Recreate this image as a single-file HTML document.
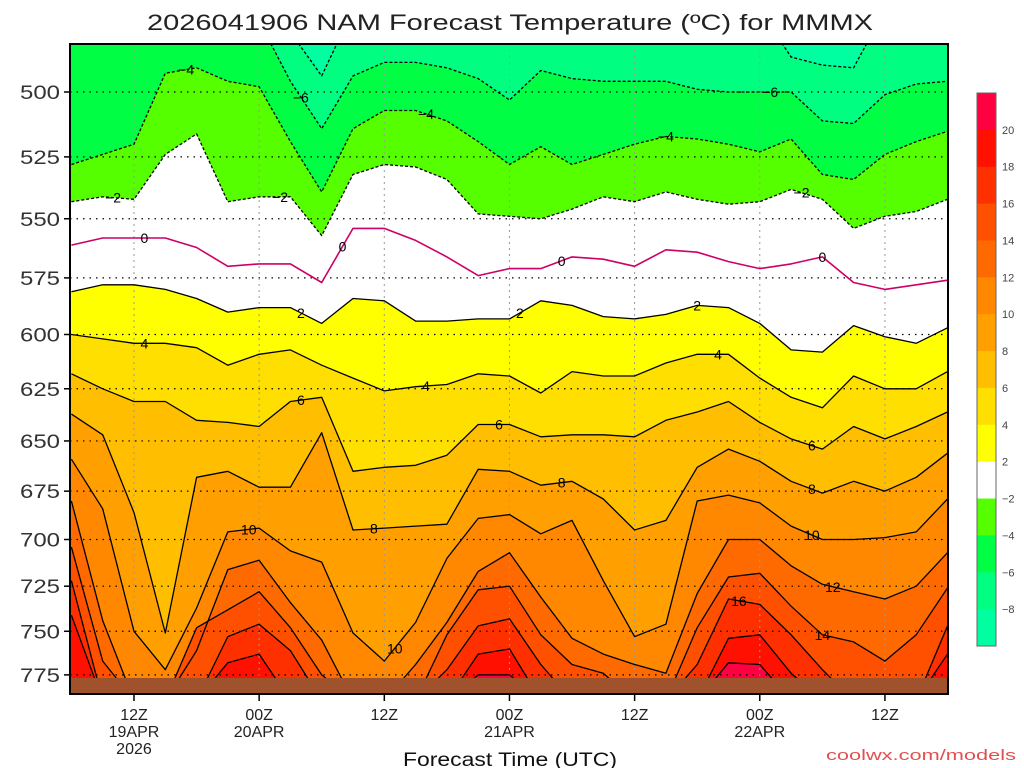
<!DOCTYPE html>
<html><head><meta charset="utf-8">
<style>
html,body{margin:0;padding:0;background:#fff;}
svg{display:block;font-family:"Liberation Sans",sans-serif;}
</style></head>
<body>
<svg id="chart" width="1024" height="768" viewBox="0 0 1024 768" xmlns="http://www.w3.org/2000/svg">
<text x="510" y="30" font-size="22" text-anchor="middle" fill="#222" textLength="726" lengthAdjust="spacingAndGlyphs">2026041906 NAM Forecast Temperature (ºC) for MMMX</text>
<defs><clipPath id="plotclip"><rect x="70" y="44" width="878" height="650"/></clipPath></defs>
<g id="plot" clip-path="url(#plotclip)"></g>
<g id="overlay"></g>
<text x="510" y="766" font-size="19" text-anchor="middle" fill="#111" textLength="214" lengthAdjust="spacingAndGlyphs">Forecast Time (UTC)</text>
<text x="1016" y="760" font-size="15" text-anchor="end" fill="#e05050" textLength="190" lengthAdjust="spacingAndGlyphs">coolwx.com/models</text>
</svg>
<script>
// ---- data ----
const hours = [0,3,6,9,12,15,18,21,24,27,30,33,36,39,42,45,48,51,54,57,60,63,66,69,72,75,78,81,84];
const contourLevels = [-8,-6,-4,-2,0,2,4,6,8,10,12,14,16,18,20];
// pressure (hPa) at which each isotherm sits, per forecast hour (470 = above chart, 790 = below ground)
const isoM8 = [470,470,470,470,470,470,470,478,494,470,470,470,470,470,470,470,470,470,470,470,470,470,470,487,490,491,470,470,470];
const isoM6 = [470,470,470,470,470,470,474,496,514,494,489,489,491,495,503,492,495,496,496,496,499,500,500,500,511,512,501,497,496];
const isoM4 = [528,524,520,493,491,496,498,519,539,514,507,507,511,519,528,521,528,524,520,517,518,520,523,518,532,534,524,519,515];
const isoM2 = [543,541,542,524,516,543,541,541,557,532,528,529,534,548,549,550,546,541,543,539,542,544,543,538,542,554,549,547,542];
const iso0  = [561,558,558,558,562,570,569,569,577,554,554,559,566,574,571,571,566,567,570,563,564,568,571,569,566,577,580,578,576];
const iso2  = [581,578,578,580,584,590,588,588,595,584,585,594,594,593,593,585,587,592,593,591,587,588,595,607,608,596,601,604,597];
const iso4  = [600,602,604,604,606,614,609,607,614,620,626,624,623,618,619,627,617,619,619,613,609,609,620,629,634,619,625,625,617];
const iso6  = [618,625,631,631,640,641,643,631,629,665,663,662,657,642,642,648,647,647,648,640,636,631,641,649,654,643,649,643,636];
const iso8  = [637,647,686,751,668,665,673,673,646,695,694,693,692,664,665,672,670,679,695,690,663,654,660,670,676,670,675,668,656];
const iso10 = [659,684,750,772,737,696,694,706,712,751,767,745,710,689,687,697,690,722,753,746,680,677,681,693,700,700,699,696,679];
const iso12 = [680,744,790,790,761,716,711,734,755,790,790,769,745,717,707,731,754,763,769,774,729,700,700,714,724,728,732,725,707];
const iso14 = [704,767,790,790,748,738,728,748,775,790,790,790,752,727,725,752,769,774,790,790,748,720,718,736,752,756,767,752,726];
const iso16 = [722,790,790,790,790,753,746,761,790,790,790,790,772,747,743,769,790,790,790,790,769,732,735,752,772,790,790,790,747];
const iso18 = [741,790,790,790,790,768,763,790,790,790,790,790,790,763,760,790,790,790,790,790,790,754,752,774,790,790,790,790,763];
const iso20 = [790,790,790,790,790,790,790,790,790,790,790,790,790,775,775,790,790,790,790,790,790,768,769,790,790,790,790,790,790];
const bandColors = ["#00ff80","#00ff44","#55ff00","#ffffff",null,"#ffff00","#ffdf00","#ffbf00","#ffa000","#ff8800","#ff6a00","#ff5000","#ff3000","#ff1000","#ff0040"];
const coldestColor = "#00ffa0";
const pressureTicks = [500,525,550,575,600,625,650,675,700,725,750,775];
const timeTicks = [6,18,30,42,54,66,78];
const timeLabels1 = ["12Z","00Z","12Z","00Z","12Z","00Z","12Z"];
const timeLabels2 = ["19APR","20APR","","21APR","","22APR",""];
const timeLabels3 = ["2026","","","","","",""];
const colorbarLevels = [20,18,16,14,12,10,8,6,4,2,-2,-4,-6,-8];
const colorbarColors = ["#ff0040","#ff1000","#ff3000","#ff5000","#ff6a00","#ff8800","#ffa000","#ffbf00","#ffdf00","#ffff00","#ffffff","#55ff00","#00ff44","#00ff80","#00ffa0"];
// contour labels: [contour index, hour]
const labelSpots = [[2,11],[2,34],[2,57],[1,22],[1,67],[3,4],[3,20],[3,70],[4,7],[4,26],[4,47],[4,72],[5,22],[5,43],[5,60],[6,7],[6,34],[6,62],[7,22],[7,41],[7,71],[8,29],[8,47],[8,71],[9,17],[9,31],[9,71],[10,73],[11,72],[12,64]];
const groundP = 776.8;
const groundColor = "#a0522d";

// ---- scales ----
const PX0 = 70, PX1 = 948, PY0 = 44, PY1 = 694;
function xs(h){ return 71.4 + h*10.43; }
function ys(p){ return 92 + 1330*Math.log(p/500); }

const NS = "http://www.w3.org/2000/svg";
const plot = document.getElementById('plot');
const overlay = document.getElementById('overlay');
function mk(tag, attrs, parent){ const e=document.createElementNS(NS,tag); for(const k in attrs) e.setAttribute(k,attrs[k]); parent.appendChild(e); return e; }

const isoSeries = [isoM8,isoM6,isoM4,isoM2,iso0,iso2,iso4,iso6,iso8,iso10,iso12,iso14,iso16,iso18,iso20];

const bg = mk('rect',{x:PX0,y:PY0,width:PX1-PX0,height:PY1-PY0,fill:coldestColor},plot);



function pts(series){ return series.map((p,i)=>xs(hours[i]).toFixed(1)+","+ys(p).toFixed(1)); }

isoSeries.forEach((s,k)=>{
  const c = bandColors[k];
  if(!c) return;
  const pp = pts(s);
  const poly = mk('polygon',{points: xs(hours[0])-5+","+ys(s[0]).toFixed(1)+" "+pp.join(" ")+" "+(xs(hours[hours.length-1])+5)+","+ys(s[s.length-1]).toFixed(1)+" 960,720 60,720",fill:c},plot);
  
  
});

// grid lines
pressureTicks.forEach(p=>{
  const l = mk('line',{x1:PX0,x2:PX1,y1:ys(p),y2:ys(p),stroke:"#000","stroke-width":1.2,"stroke-dasharray":"1.5,5"},plot);
  
  
});
timeTicks.forEach(h=>{
  const l = mk('line',{x1:xs(h),x2:xs(h),y1:PY0,y2:PY1,stroke:"#999","stroke-width":1,"stroke-dasharray":"2,4"},plot);
  
  
});

// contour lines
isoSeries.forEach((s,k)=>{
  const T = contourLevels[k];
  const attrs = {points: pts(s).join(" "), fill:"none", stroke: T===0?"#cc0066":"#000", "stroke-width": T===0?1.6:1.3, "stroke-linejoin":"round"};
  if(T<0) attrs["stroke-dasharray"]="3,2";
  const pl = mk('polyline',attrs,plot);
  
  
});

// ground
const gy = ys(groundP);
const gr = mk('rect',{x:PX0,y:gy,width:PX1-PX0,height:PY1-gy,fill:groundColor},plot);



// contour labels
function interp(series,h){ const i=Math.min(Math.floor(h/3),hours.length-2); const f=(h-hours[i])/3; return series[i]*(1-f)+series[i+1]*f; }
labelSpots.forEach(([k,h])=>{
  const p = interp(isoSeries[k],h);
  const t = mk('text',{x:xs(h),y:ys(p)+5,"font-size":14,"text-anchor":"middle",fill:"#000"},plot);
  t.textContent = String(contourLevels[k]).replace('-','\u2212');
  
  
});

// frame
const fr = mk('rect',{x:PX0,y:PY0,width:PX1-PX0,height:PY1-PY0,fill:"none",stroke:"#000","stroke-width":2},overlay);



// y axis labels
pressureTicks.forEach(p=>{
  const t = mk('text',{x:60,y:ys(p)+7,"font-size":19,"text-anchor":"end",fill:"#333",textLength:40,lengthAdjust:"spacingAndGlyphs"},overlay);
  t.textContent = p;
  
  
  const tk = mk('line',{x1:PX0-6,x2:PX0,y1:ys(p),y2:ys(p),stroke:"#000","stroke-width":1.5},overlay);
  
  
});
// x axis labels
timeTicks.forEach((h,i)=>{
  const x = xs(h);
  const tk = mk('line',{x1:x,x2:x,y1:PY1,y2:PY1+7,stroke:"#000","stroke-width":1.5},overlay);
  
  
  [[timeLabels1[i],720],[timeLabels2[i],737],[timeLabels3[i],754]].forEach(([s,y])=>{
    if(!s) return;
    const t = mk('text',{x:x,y:y,"font-size":16,"text-anchor":"middle",fill:"#222"},overlay);
    t.textContent = s;
    
    
  });
});

// colorbar
const CB_TOP = 93, CB_H = 553, CB_X = 977, CB_W = 19;
const seg = CB_H/colorbarColors.length;
colorbarColors.forEach((c,i)=>{
  const r = mk('rect',{x:CB_X,y:CB_TOP+i*seg,width:CB_W,height:seg+0.5,fill:c},overlay);
  
  
});
const cbf = mk('rect',{x:CB_X,y:CB_TOP,width:CB_W,height:CB_H,fill:"none",stroke:"#666","stroke-width":1},overlay);


colorbarLevels.forEach((v,i)=>{
  const y = CB_TOP+(i+1)*seg;
  const t = mk('text',{x:1002,y:y+4,"font-size":11,fill:"#444"},overlay);
  t.textContent = String(v).replace('-','\u2212');
  
  
});
</script>
</body></html>
